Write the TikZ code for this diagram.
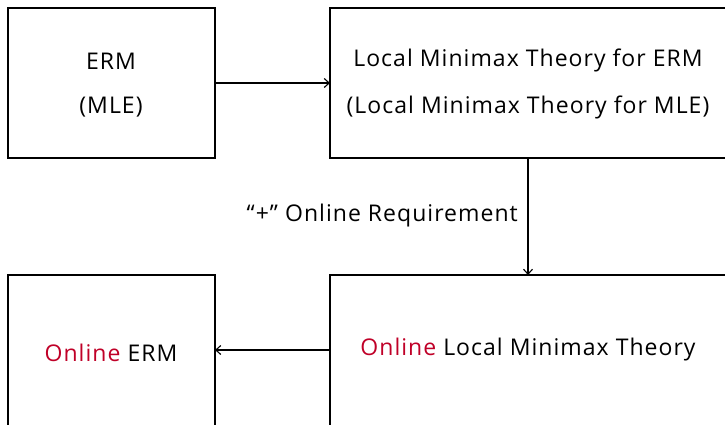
\documentclass[tikz,border=0pt]{standalone}
\usepackage{fontspec}
\setmainfont{Open Sans}[LetterSpace=4.5]
\usetikzlibrary{arrows.meta}
\definecolor{onred}{RGB}{192,0,40}
\begin{document}
\begin{tikzpicture}[x=1pt,y=-1pt,
  box/.style={draw=black,line width=1.6pt,fill=white},
  conn/.style={line width=1.3pt,-{Straight Barb[length=5pt,width=9pt,line width=1.1pt]}},
  lbl/.style={font=\fontsize{23}{27}\selectfont,text=black,inner sep=0pt,anchor=center}]
\useasboundingbox (0,0) rectangle (725,425);
\begin{scope}
\clip (0,0) rectangle (725,425);
\draw[box] (8,8) rectangle (215,158);
\draw[box] (330,8) rectangle (740,158);
\draw[box] (8,275) rectangle (215,440);
\draw[box] (330,275) rectangle (740,440);
\end{scope}
\coordinate (tlR) at (215,83);
\coordinate (trL) at (330,83);
\coordinate (trB) at (528,158);
\coordinate (brT) at (528,275);
\coordinate (brL) at (330,350);
\coordinate (blR) at (215,350);
\draw[conn] (tlR) -- (trL);
\draw[conn] (trB) -- (brT);
\draw[conn] (brL) -- (blR);
\node[lbl] (erm) at (111,61) {ERM};
\node[lbl] (mle) at (111,107) {(MLE)};
\node[lbl] (lm1) at (528,60) {Local Minimax Theory for ERM};
\node[lbl] (lm2) at (528,107) {(Local Minimax Theory for MLE)};
\node[lbl,anchor=east] (req) at (518,216) {“+\char"0022{} Online Requirement};
\node[lbl] (oerm) at (111,353) {\textcolor{onred}{Online} ERM};
\node[lbl] (olm) at (528,350) {\textcolor{onred}{Online} Local Minimax Theory};
\end{tikzpicture}
\end{document}
